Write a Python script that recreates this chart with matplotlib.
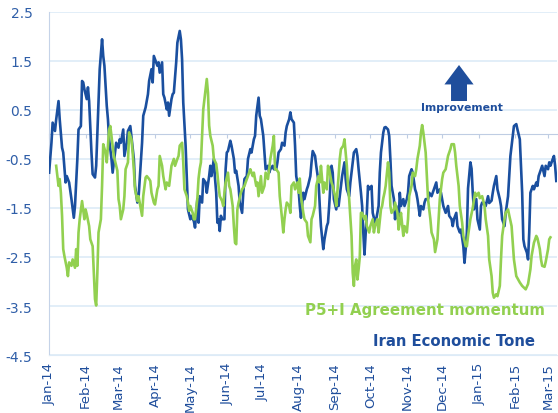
import pandas as pd
import matplotlib
matplotlib.use('Agg')
import matplotlib.pyplot as plt
import matplotlib.dates as mdates

start = pd.Timestamp('2014-01-01')

# Iran Economic Tone (days since 1 Jan 2014, value)
tone_day = [0, 2, 3, 5, 6, 8, 9, 11, 12, 14,
            15, 17, 19, 21, 22, 24, 25, 27, 28, 29,
            30, 32, 33, 34, 36, 37, 39, 40, 42, 43,
            45, 46, 47, 49, 50, 51, 53, 54, 56, 57,
            59, 60, 61, 63, 64, 66, 67, 69, 70, 72,
            73, 75, 76, 79, 80, 82, 84, 85, 87, 88,
            89, 91, 92, 93, 94, 96, 97, 98, 100, 101,
            102, 104, 105, 106, 108, 109, 111, 112, 113, 114,
            116, 117, 118, 120, 121, 123, 124, 126, 127, 128,
            130, 131, 133, 134, 136, 137, 138, 140, 141, 142,
            143, 144, 145, 146, 147, 149, 150, 151, 152, 154,
            155, 157, 158, 159, 161, 162, 164, 165, 166, 168,
            169, 171, 172, 174, 175, 176, 178, 179, 180, 182,
            183, 184, 186, 187, 188, 190, 191, 193, 194, 195,
            197, 198, 200, 201, 202, 204, 205, 206, 208, 209,
            210, 212, 213, 214, 216, 217, 219, 220, 222, 223,
            224, 226, 227, 229, 230, 231, 233, 234, 236, 237,
            238, 240, 241, 242, 244, 245, 246, 248, 249, 251,
            252, 253, 255, 256, 258, 259, 261, 262, 263, 265,
            266, 267, 268, 270, 271, 272, 274, 275, 277, 278,
            280, 281, 282, 284, 285, 286, 288, 289, 290, 291,
            293, 294, 295, 297, 298, 299, 301, 302, 304, 305,
            306, 308, 309, 311, 312, 313, 315, 316, 318, 319,
            320, 322, 323, 325, 326, 328, 329, 330, 332, 333,
            335, 336, 337, 339, 340, 342, 343, 344, 346, 347,
            349, 350, 352, 353, 354, 355, 356, 358, 359, 360,
            361, 363, 364, 366, 367, 368, 370, 371, 373, 374,
            376, 377, 378, 380, 381, 383, 384, 385, 387, 388,
            390, 391, 392, 394, 395, 397, 398, 400, 401, 402,
            403, 404, 406, 407, 408, 409, 411, 412, 414, 415,
            416, 418, 419, 421, 422, 424, 425, 426, 428, 429,
            430, 431]
tone_val = [-0.78, -0.17, 0.24, 0.07, 0.30, 0.68, 0.31, -0.27, -0.37, -0.98,
            -0.85, -0.98, -1.32, -1.70, -1.46, -0.50, 0.10, 0.17, 1.09, 1.06,
            0.92, 0.72, 0.96, 0.68, -0.37, -0.81, -0.88, -0.64, 0.65, 1.33,
            1.94, 1.60, 1.40, 0.58, 0.31, -0.10, -0.50, -0.78, -0.37, -0.17,
            -0.27, -0.10, -0.17, 0.10, -0.44, -0.17, 0.07, 0.17, -0.05, -0.50,
            -1.05, -1.39, -1.29, -0.17, 0.38, 0.55, 0.82, 1.09, 1.33, 1.06,
            1.60, 1.47, 1.40, 1.47, 1.26, 1.47, 0.82, 0.75, 0.51, 0.65,
            0.38, 0.72, 0.82, 0.85, 1.47, 1.87, 2.11, 1.94, 1.53, 0.65,
            -0.23, -0.91, -1.53, -1.73, -1.66, -1.77, -1.90, -1.32, -1.80, -1.26,
            -1.39, -0.91, -0.98, -1.19, -0.85, -0.64, -0.85, -0.50, -0.90, -1.19,
            -1.80, -1.73, -1.97, -1.66, -1.73, -1.73, -0.71, -0.37, -0.34, -0.13,
            -0.23, -0.50, -0.78, -0.74, -1.05, -1.39, -1.60, -1.19, -0.91, -0.85,
            -0.50, -0.30, -0.37, -0.10, -0.03, 0.38, 0.75, 0.38, 0.31, -0.03,
            -0.37, -0.71, -0.64, -0.78, -0.71, -0.64, -0.71, -0.71, -0.57, -0.37,
            -0.30, -0.17, -0.23, 0.04, 0.17, 0.31, 0.45, 0.31, 0.24, -0.23,
            -0.85, -1.12, -1.45, -1.70, -1.19, -1.32, -1.12, -1.05, -0.85, -0.57,
            -0.34, -0.44, -0.64, -0.98, -1.46, -1.87, -2.34, -2.14, -1.87, -1.80,
            -1.46, -0.64, -0.78, -1.32, -1.53, -1.32, -1.46, -1.05, -0.85, -0.57,
            -0.91, -1.12, -1.26, -0.98, -0.57, -0.37, -0.30, -0.44, -0.71, -1.19,
            -1.46, -2.00, -2.45, -1.60, -1.05, -1.12, -1.05, -1.60, -1.80, -1.73,
            -1.46, -0.78, -0.37, 0.04, 0.14, 0.15, 0.10, -0.03, -0.50, -1.05,
            -1.32, -1.73, -1.46, -1.80, -1.19, -1.46, -1.32, -1.46, -1.32, -1.19,
            -0.85, -0.71, -0.78, -1.12, -1.19, -1.32, -1.66, -1.46, -1.53, -1.39,
            -1.32, -1.32, -1.19, -1.26, -1.19, -1.05, -0.98, -1.19, -1.12, -1.19,
            -1.46, -1.53, -1.60, -1.46, -1.66, -1.73, -1.87, -1.73, -1.60, -1.87,
            -2.00, -1.94, -2.28, -2.62, -2.34, -2.00, -1.10, -0.57, -0.70, -1.19,
            -1.53, -1.32, -1.73, -1.94, -1.46, -1.39, -1.40, -1.46, -1.26, -1.40,
            -1.35, -1.19, -1.05, -0.85, -1.12, -1.32, -1.46, -1.73, -1.87, -1.60,
            -1.26, -0.85, -0.44, -0.03, 0.17, 0.21, 0.10, -0.10, -0.64, -1.19,
            -2.14, -2.28, -2.41, -2.55, -2.00, -1.19, -1.05, -1.12, -0.98, -1.05,
            -0.85, -0.71, -0.64, -0.85, -0.64, -0.71, -0.57, -0.64, -0.50, -0.44,
            -0.64, -0.95]

# P5+1 Agreement momentum
p5_day = [6, 8, 9, 10, 11, 12, 13, 15, 16, 17,
          19, 20, 22, 23, 24, 25, 26, 28, 30, 31,
          32, 34, 35, 37, 38, 39, 40, 41, 42, 44,
          45, 46, 48, 49, 51, 52, 54, 55, 58, 59,
          60, 61, 63, 64, 65, 67, 68, 70, 71, 72,
          73, 75, 76, 78, 79, 80, 82, 83, 85, 86,
          87, 89, 90, 92, 93, 94, 96, 97, 99, 100,
          102, 103, 104, 106, 107, 109, 110, 111, 113, 114,
          115, 117, 118, 119, 120, 122, 123, 124, 126, 127,
          128, 129, 130, 131, 133, 134, 135, 136, 137, 139,
          140, 142, 143, 144, 145, 147, 148, 149, 150, 152,
          153, 154, 156, 157, 158, 159, 160, 161, 163, 164,
          166, 167, 169, 170, 171, 173, 174, 176, 177, 178,
          180, 181, 183, 184, 186, 187, 188, 190, 191, 192,
          193, 195, 196, 198, 199, 200, 201, 202, 204, 205,
          206, 208, 209, 211, 212, 213, 214, 216, 217, 219,
          220, 222, 223, 224, 226, 227, 229, 230, 231, 233,
          234, 236, 237, 238, 240, 241, 243, 244, 246, 247,
          248, 250, 251, 253, 254, 255, 257, 258, 259, 260,
          261, 262, 263, 264, 265, 266, 268, 269, 270, 272,
          273, 275, 276, 277, 279, 280, 282, 283, 284, 285,
          286, 288, 289, 290, 291, 293, 294, 296, 297, 298,
          299, 301, 302, 304, 305, 306, 308, 309, 311, 312,
          313, 315, 316, 317, 318, 320, 321, 322, 324, 325,
          327, 328, 330, 331, 332, 334, 335, 337, 338, 339,
          341, 342, 344, 345, 346, 348, 349, 351, 352, 354,
          355, 356, 358, 360, 362, 363, 365, 366, 368, 370,
          371, 373, 374, 376, 377, 378, 380, 381, 383, 384,
          385, 387, 388, 390, 391, 393, 394, 395, 397, 400,
          402, 405, 407, 409, 410, 412, 414, 415, 417, 418,
          419, 421, 422, 424, 425, 426]
p5_val = [-0.64, -1.05, -0.91, -1.19, -1.66, -2.34, -2.48, -2.72, -2.89, -2.61,
          -2.68, -2.55, -2.72, -2.34, -2.68, -2.00, -1.73, -1.36, -1.73, -1.53,
          -1.63, -1.87, -2.14, -2.28, -2.82, -3.36, -3.49, -2.82, -2.00, -1.73,
          -1.05, -0.20, -0.37, -0.57, 0.10, 0.17, -0.23, -0.44, -0.74, -1.32,
          -1.46, -1.73, -1.53, -1.26, -0.71, -0.57, 0.04, -0.10, -0.37, -0.71,
          -1.12, -1.36, -1.26, -1.53, -1.66, -1.26, -0.88, -0.85, -0.91, -0.95,
          -1.19, -1.39, -1.43, -1.12, -1.05, -0.44, -0.64, -0.85, -1.12, -0.98,
          -1.05, -0.85, -0.64, -0.50, -0.64, -0.50, -0.44, -0.23, -0.17, -0.57,
          -1.12, -1.26, -1.39, -1.56, -1.46, -1.60, -1.73, -1.73, -1.30, -0.90,
          -0.70, -0.57, -0.03, 0.51, 0.92, 1.13, 0.85, 0.18, -0.03, -0.23,
          -0.50, -0.60, -0.80, -1.05, -1.26, -1.36, -1.46, -1.19, -0.98, -0.78,
          -1.05, -1.12, -1.46, -1.87, -2.21, -2.24, -1.53, -1.39, -1.19, -1.12,
          -1.05, -0.98, -0.85, -0.78, -0.71, -0.85, -0.78, -1.05, -0.98, -1.26,
          -0.85, -1.19, -1.05, -0.78, -0.91, -0.71, -0.50, -0.23, -0.03, -0.71,
          -0.71, -0.78, -1.26, -1.73, -2.00, -1.73, -1.53, -1.39, -1.46, -1.60,
          -1.05, -0.98, -1.12, -0.98, -1.19, -0.90, -1.26, -1.60, -1.73, -1.80,
          -2.07, -2.20, -1.73, -1.66, -1.46, -1.05, -0.85, -0.98, -0.64, -1.19,
          -0.98, -1.12, -0.64, -0.71, -0.98, -1.05, -1.26, -1.46, -0.85, -0.50,
          -0.30, -0.23, -0.10, -0.64, -1.05, -1.32, -2.07, -2.82, -3.09, -2.68,
          -2.55, -2.96, -2.75, -2.50, -1.60, -1.60, -1.73, -1.66, -1.87, -2.00,
          -1.87, -1.73, -2.00, -1.87, -1.73, -2.00, -1.53, -1.46, -1.30, -1.19,
          -1.05, -0.57, -0.78, -1.46, -1.60, -1.53, -1.39, -1.60, -1.94, -1.80,
          -1.60, -2.07, -1.87, -2.00, -1.73, -1.26, -1.05, -0.78, -0.85, -0.71,
          -0.50, -0.23, 0.04, 0.19, 0.04, -0.37, -0.85, -1.32, -1.73, -2.00,
          -2.14, -2.40, -2.14, -1.73, -1.32, -0.91, -0.78, -0.71, -0.57, -0.44,
          -0.30, -0.20, -0.20, -0.37, -0.64, -1.05, -1.46, -1.80, -2.07, -2.28,
          -2.28, -2.07, -1.73, -1.50, -1.19, -1.26, -1.19, -1.30, -1.26, -1.46,
          -1.73, -2.07, -2.55, -2.89, -3.23, -3.33, -3.26, -3.30, -3.09, -2.55,
          -2.07, -1.73, -1.60, -1.53, -1.65, -1.87, -2.21, -2.55, -2.89, -3.02,
          -3.09, -3.16, -3.05, -2.75, -2.48, -2.21, -2.07, -2.12, -2.34, -2.55,
          -2.68, -2.70, -2.60, -2.34, -2.14, -2.10]

y_ticks = [-4.5, -3.5, -2.5, -1.5, -0.5, 0.5, 1.5, 2.5]
last_day = 431.5

NAVY = '#1A4F9F'
GREEN = '#92D050'
GRID = '#DDEBF7'

fig = plt.figure(figsize=(5.58, 4.14), dpi=100)
ax = fig.add_axes([0.088, 0.140, 0.910, 0.829])

tone_dates = start + pd.to_timedelta(tone_day, unit='D')
p5_dates = start + pd.to_timedelta(p5_day, unit='D')

ax.plot(tone_dates, tone_val, color=NAVY, lw=1.9, zorder=3, solid_joinstyle='round')
ax.plot(p5_dates, p5_val, color=GREEN, lw=1.9, zorder=4, solid_joinstyle='round')

ax.set_ylim(y_ticks[0], y_ticks[-1])
ax.set_xlim(start, start + pd.Timedelta(days=last_day))
ax.set_yticks(y_ticks)
ax.set_yticklabels([f'{v:.1f}' for v in y_ticks])
ax.yaxis.grid(True, color=GRID, lw=1.2, zorder=0)
ax.set_axisbelow(True)

ax.xaxis.set_major_locator(mdates.MonthLocator())
ax.xaxis.set_major_formatter(mdates.DateFormatter('%b-%y'))
ax.tick_params(axis='x', length=0, pad=5, labelsize=9.5, labelcolor='#1F4E9C',
               labelrotation=90)
ax.tick_params(axis='y', length=0, pad=12, labelsize=10, labelcolor='#2F5EA8')
for lab in ax.get_xticklabels():
    lab.set_va('top')
    lab.set_ha('center')

for side in ['top', 'right']:
    ax.spines[side].set_visible(False)
ax.spines['left'].set_color('#C5D3E8')
ax.spines['bottom'].set_color(GRID)

# category axis crossing at zero, with month ticks
zero_axis = ax.secondary_xaxis(0, transform=ax.transData)
zero_axis.xaxis.set_major_locator(mdates.MonthLocator())
zero_axis.tick_params(axis='x', direction='out', length=3, color='#BFCDE3',
                      labelbottom=False, labeltop=False)
zero_axis.spines['bottom'].set_color('#BFCDE3')

fig.text(0.977, 0.249, 'P5+I Agreement momentum', color=GREEN, fontsize=10.8,
         fontweight='bold', ha='right', va='center')
fig.text(0.959, 0.174, 'Iran Economic Tone', color='#1F4E9C', fontsize=10.7,
         fontweight='bold', ha='right', va='center')
fig.text(0.827, 0.739, 'Improvement', color='#1F4E9C', fontsize=7.8,
         fontweight='bold', ha='center', va='center')
ax.annotate('', xy=(0.8226, 0.8406), xytext=(0.8226, 0.7536),
            xycoords='figure fraction', textcoords='figure fraction',
            arrowprops=dict(arrowstyle='simple,head_length=1.4,head_width=2.1,tail_width=1.15',
                            fc='#1F4E9C', ec='none', mutation_scale=10,
                            shrinkA=0, shrinkB=0))

fig.savefig('out.png', dpi=100)
